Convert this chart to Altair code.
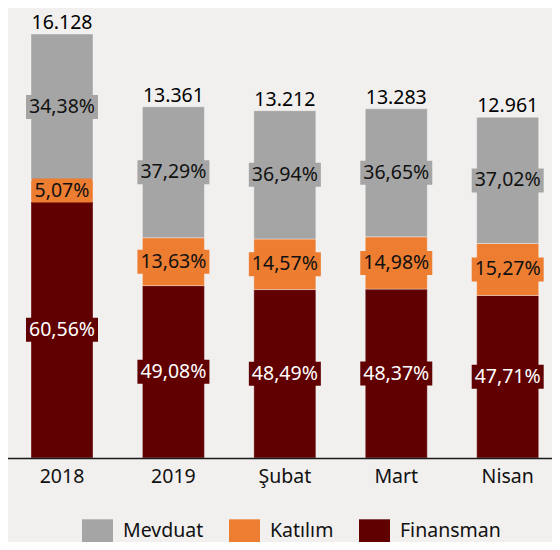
import altair as alt
import pandas as pd

cats = ["2018", "2019", "Şubat", "Mart", "Nisan"]
totals = [16128, 13361, 13212, 13283, 12961]
total_labels = ["16.128", "13.361", "13.212", "13.283", "12.961"]
finansman = [60.56, 49.08, 48.49, 48.37, 47.71]
katilim = [5.07, 13.63, 14.57, 14.98, 15.27]
mevduat = [34.38, 37.29, 36.94, 36.65, 37.02]

series_names = ["Mevduat", "Katılım", "Finansman"]
series_colors = ["#A5A5A5", "#ED7D31", "#600000"]

rows = []
for i, c in enumerate(cats):
    base = 0.0
    for s, pcts in (("Finansman", finansman), ("Katılım", katilim), ("Mevduat", mevduat)):
        v = totals[i] * pcts[i] / 100.0
        lab = f"{pcts[i]:.2f}".replace(".", ",") + "%"
        hw = len(lab) * 12 / 48.0
        rows.append(dict(cat=c, series=s, y0=base, y1=base + v, mid=base + v / 2,
                         label=lab, box=f"M{-hw},-0.5H{hw}V0.5H{-hw}Z"))
        base += v
df = pd.DataFrame(rows)
tot = pd.DataFrame(dict(cat=cats, total=totals, label=total_labels))

FONT = "Noto Sans"
FS = 19.5

cscale = alt.Scale(domain=series_names, range=series_colors)
xs = alt.X("cat:N", sort=cats,
           scale=alt.Scale(range=[23, 530.7], paddingInner=0.4436, paddingOuter=0),
           axis=alt.Axis(title=None, labelAngle=0, ticks=False, domain=False,
                         labelFontSize=FS, labelFont=FONT, labelColor="#111111",
                         labelPadding=9, grid=False))
yscale = alt.Scale(domain=[0, 17120])

bars = alt.Chart(df).mark_bar(stroke="#ffffff", strokeOpacity=0.35, strokeWidth=1).encode(
    x=xs,
    y=alt.Y("y0:Q", scale=yscale, axis=None),
    y2="y1:Q",
    color=alt.Color("series:N", scale=cscale,
                    legend=alt.Legend(title=None, orient="none", legendX=74, legendY=507,
                                      direction="horizontal",
                                      symbolType="M-1,-0.75H1V0.75H-1Z", symbolSize=961,
                                      symbolStrokeWidth=0, symbolOpacity=1,
                                      labelFontSize=FS, labelFont=FONT, labelColor="#111111",
                                      labelOffset=10, columnPadding=25, padding=0)),
)

boxes = alt.Chart(df).mark_point(filled=True, opacity=1, size=2304, strokeWidth=0).encode(
    x=xs,
    y=alt.Y("mid:Q", scale=yscale, axis=None),
    color=alt.Color("series:N", scale=cscale, legend=None),
    shape=alt.Shape("box:N", scale=None),
)

txt_dark = alt.Chart(df).transform_filter("datum.series != 'Finansman'").mark_text(
    font=FONT, fontSize=FS, baseline="middle", color="#111111").encode(
    x=xs, y=alt.Y("mid:Q", scale=yscale, axis=None), text="label:N")

txt_light = alt.Chart(df).transform_filter("datum.series == 'Finansman'").mark_text(
    font=FONT, fontSize=FS, baseline="middle", color="#ffffff").encode(
    x=xs, y=alt.Y("mid:Q", scale=yscale, axis=None), text="label:N")

totals_txt = alt.Chart(tot).mark_text(
    font=FONT, fontSize=FS, baseline="alphabetic", dy=-5, color="#000000").encode(
    x=xs, y=alt.Y("total:Q", scale=yscale, axis=None), text="label:N")

rule = alt.Chart(pd.DataFrame({"a": [0]})).mark_rule(color="#1a1a1a", strokeWidth=1.3).encode(
    x=alt.value(0), x2=alt.value(544), y=alt.value(450.5))

chart = alt.layer(bars, boxes, txt_dark, txt_light, totals_txt, rule).properties(
    width=544, height=450,
    autosize=alt.AutoSizeParams(type="none"),
    padding={"left": 0, "top": 0, "right": 0, "bottom": 84},
    background="#F2F0EF",
).configure_view(stroke=None)

chart.save("out.html", embed_options={"renderer": "svg", "actions": False})
